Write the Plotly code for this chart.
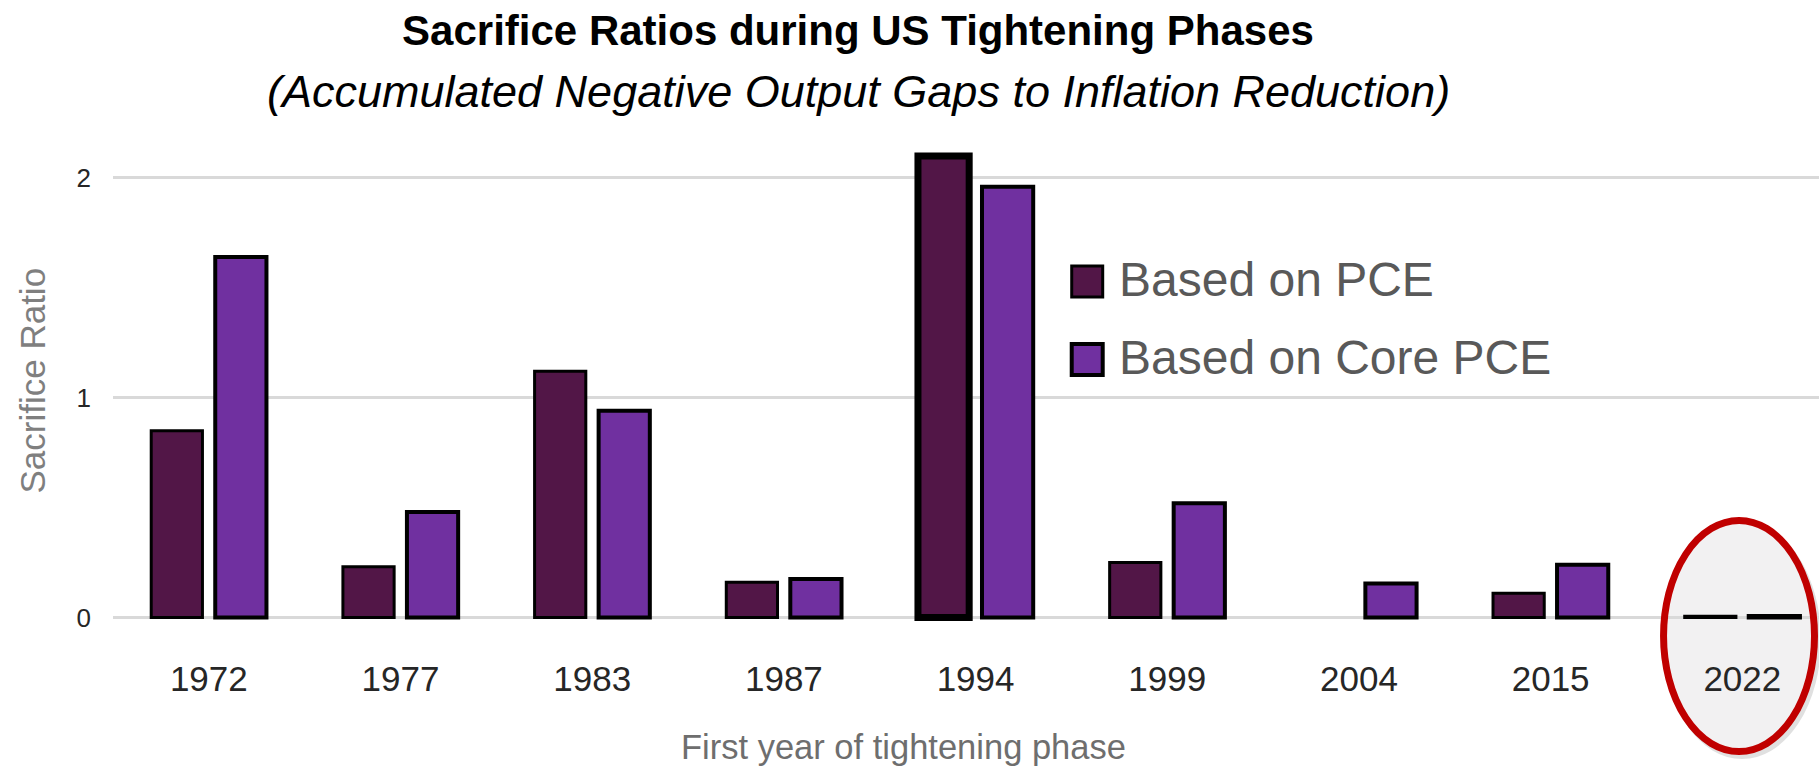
import plotly.graph_objects as go

# ---- data ----
years = ["1972", "1977", "1983", "1987", "1994", "1999", "2004", "2015", "2022"]
pce = [0.85, 0.23, 1.12, 0.16, 2.10, 0.25, None, 0.11, 0.005]
core_pce = [1.64, 0.48, 0.94, 0.175, 1.96, 0.52, 0.154, 0.24, 0.006]
series_names = ["Based on PCE", "Based on Core PCE"]
y_ticks = [0, 1, 2]

# ---- style ----
W, H = 1819, 767
ML, MR, MT, MB = 112.5, 0, 112, 143
COL_PCE = "#521647"
COL_CORE = "#7030A0"
pce_line_w = [3, 3, 3, 3, 7, 3, 3, 3, 3]
core_line_w = 4
FONT = "Liberation Sans, Arial, sans-serif"

plot_w = W - ML - MR
plot_h = H - MT - MB


def px_x(px):
    return (px - ML) / plot_w


def px_y(py):
    return (H - MB - py) / plot_h


fig = go.Figure()
fig.add_trace(go.Bar(
    x=years, y=pce, name=series_names[0],
    marker=dict(color=COL_PCE, line=dict(color="black", width=pce_line_w)),
))
fig.add_trace(go.Bar(
    x=years, y=core_pce, name=series_names[1],
    marker=dict(color=COL_CORE, line=dict(color="black", width=core_line_w)),
))

# highlight ellipse around last category
cx, cy, rx, ry = 1739, 636, 75.5, 115.5
fig.add_shape(type="circle", xref="paper", yref="paper",
              x0=px_x(cx - rx + 3), x1=px_x(cx + rx + 3), y0=px_y(cy + ry + 4), y1=px_y(cy - ry + 4),
              line=dict(color="rgba(0,0,0,0.12)", width=7), fillcolor="rgba(0,0,0,0)", layer="below")
fig.add_shape(type="circle", xref="paper", yref="paper",
              x0=px_x(cx - rx), x1=px_x(cx + rx), y0=px_y(cy + ry), y1=px_y(cy - ry),
              line=dict(color="rgba(0,0,0,0)", width=0), fillcolor="#F2F1F2", layer="below")
fig.add_shape(type="circle", xref="paper", yref="paper",
              x0=px_x(cx - rx), x1=px_x(cx + rx), y0=px_y(cy + ry), y1=px_y(cy - ry),
              line=dict(color="#C00000", width=7), fillcolor="rgba(0,0,0,0)", layer="above")

# legend (large squares)
legend_items = [(series_names[0], COL_PCE, 3, 281.5, 279.5), (series_names[1], COL_CORE, 4, 359.5, 357)]
for name, col, lw, sq_cy, txt_cy in legend_items:
    s = 15.5
    fig.add_shape(type="rect", xref="paper", yref="paper",
                  x0=px_x(1087 - s), x1=px_x(1087 + s), y0=px_y(sq_cy + s), y1=px_y(sq_cy - s),
                  line=dict(color="black", width=lw), fillcolor=col)
    fig.add_annotation(text=name, xref="paper", yref="paper", x=px_x(1117), y=px_y(txt_cy),
                       xanchor="left", yanchor="middle", showarrow=False,
                       font=dict(family=FONT, size=48, color="#595959"))

# subtitle
fig.add_annotation(text="<i>(Accumulated Negative Output Gaps to Inflation Reduction)</i>",
                   xref="paper", yref="paper", x=px_x(858), y=px_y(91),
                   xanchor="center", yanchor="middle", showarrow=False,
                   font=dict(family=FONT, size=45, color="#000000"))

# y axis title
fig.add_annotation(text="Sacrifice Ratio", xref="paper", yref="paper", x=px_x(31), y=px_y(381),
                   xanchor="center", yanchor="middle", textangle=-90, showarrow=False,
                   font=dict(family=FONT, size=35, color="#7F7F7F"))

# x axis title
fig.add_annotation(text="First year of tightening phase", xref="paper", yref="paper",
                   x=px_x(903.5), y=px_y(747), xanchor="center", yanchor="middle", showarrow=False,
                   font=dict(family=FONT, size=34.5, color="#6E6E6E"))

fig.update_layout(
    width=W, height=H,
    margin=dict(l=ML, r=MR, t=MT, b=MB, pad=0),
    paper_bgcolor="white", plot_bgcolor="rgba(0,0,0,0)",
    barmode="group", bargap=0.332, bargroupgap=0.2,
    showlegend=False,
    title=dict(text="<b>Sacrifice Ratios during US Tightening Phases</b>",
               x=858 / W, xanchor="center", y=1 - 30 / H, yanchor="middle",
               font=dict(family=FONT, size=42, color="#000000")),
    xaxis=dict(type="category", range=[-0.5, 8.4], showgrid=False, showline=False, zeroline=False,
               ticks="", ticklabelstandoff=31,
               tickfont=dict(family=FONT, size=35, color="#262626")),
    yaxis=dict(range=[-0.03, 2.3], tickvals=y_ticks, ticktext=[str(v) for v in y_ticks],
               showgrid=True, gridcolor="#D9D9D9", gridwidth=3,
               zeroline=True, zerolinecolor="#D9D9D9", zerolinewidth=3,
               showline=False, ticks="", ticklabelstandoff=21,
               tickfont=dict(family=FONT, size=26, color="#262626")),
)

fig.write_html("out.html", config={"displayModeBar": False},
               post_script="document.body.style.margin='0';document.body.style.overflow='hidden';")
